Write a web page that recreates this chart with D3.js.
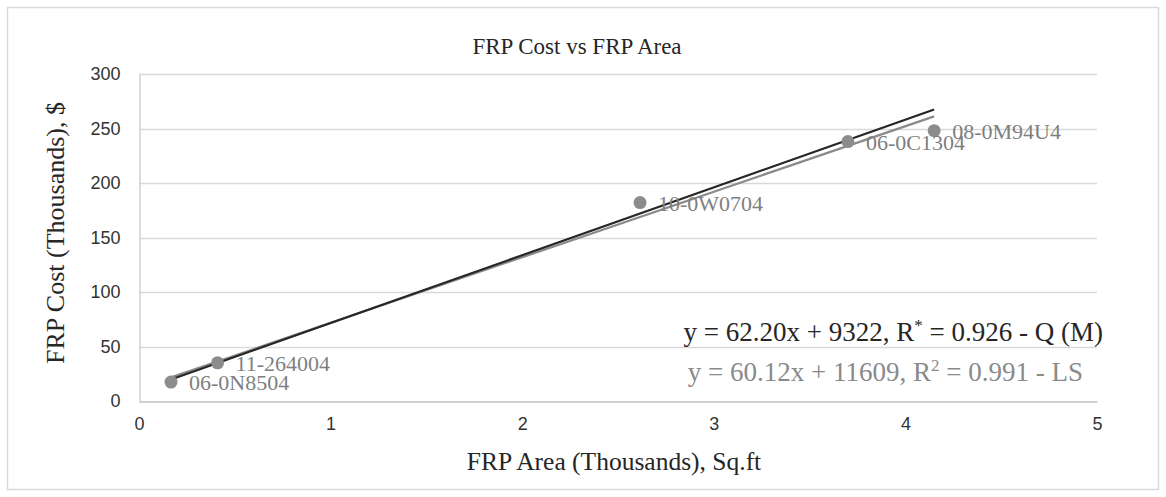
<!DOCTYPE html>
<html>
<head>
<meta charset="utf-8">
<script src="https://cdn.jsdelivr.net/npm/d3@7"></script>
<style>
  html, body { margin: 0; padding: 0; background: #fff; }
  svg { display: block; }
</style>
</head>
<body>
<svg id="chart" width="1166" height="497"></svg>
<script>
// FRP projects: area (thousand sq.ft) vs cost (thousand $)
const projectIds = ["06-0N8504", "11-264004", "10-0W0704", "06-0C1304", "08-0M94U4"];
const frpArea = [0.167, 0.41, 2.615, 3.70, 4.15];
const frpCost = [17.4, 35.0, 182, 238, 248];

// Fitted trend lines (cost in $, area in sq.ft): y = slope * x + intercept
const fitLabels = ["Q (M)", "LS"];
const fitSlopes = [62.20, 60.12];
const fitIntercepts = [9322, 11609];
const fitR = [0.926, 0.991];

const xTicks = [0, 1, 2, 3, 4, 5];
const yTicks = [0, 50, 100, 150, 200, 250, 300];

const svg = d3.select("#chart");
const serif = "'Liberation Serif', 'Times New Roman', serif";
const sans = "'Liberation Sans', Arial, sans-serif";

const plot = { left: 139, right: 1097, top: 74, bottom: 401 };

const x = d3.scaleLinear().domain([0, 5]).range([plot.left, plot.right]);
const y = d3.scaleLinear().domain([0, 300]).range([plot.bottom, plot.top]);

// chart frame
svg.append("rect")
  .attr("x", 7.5).attr("y", 7.5)
  .attr("width", 1151).attr("height", 482)
  .attr("fill", "#fff")
  .attr("stroke", "#d9d9d9")
  .attr("stroke-width", 1.5);

// horizontal gridlines
svg.append("g")
  .selectAll("line")
  .data(yTicks.filter(d => d > 0))
  .join("line")
  .attr("x1", plot.left).attr("x2", plot.right)
  .attr("y1", d => Math.round(y(d)) + 0.5).attr("y2", d => Math.round(y(d)) + 0.5)
  .attr("stroke", "#d9d9d9")
  .attr("stroke-width", 1.5);

// y axis
const yAxis = svg.append("g")
  .attr("transform", `translate(${plot.left + 0.5},0)`)
  .call(d3.axisLeft(y).tickValues(yTicks).tickFormat(d3.format("d")).tickSize(0).tickPadding(19));
yAxis.select(".domain").attr("stroke", "#d0d0d0").attr("stroke-width", 1.5);
yAxis.selectAll("text")
  .attr("font-family", sans).attr("font-size", 18).attr("fill", "#333");

// x axis
const xAxis = svg.append("g")
  .attr("transform", `translate(0,${plot.bottom + 0.5})`)
  .call(d3.axisBottom(x).tickValues(xTicks).tickFormat(d3.format("d")).tickSize(0).tickPadding(16));
xAxis.select(".domain").attr("stroke", "#bfbfbf").attr("stroke-width", 1.5);
xAxis.selectAll("text")
  .attr("font-family", sans).attr("font-size", 18).attr("fill", "#333");

// trend lines over the observed range of areas
const xMin = d3.min(frpArea), xMax = d3.max(frpArea);
const fitColors = ["#262626", "#8a8a8a"];
const fits = fitSlopes.map((m, i) => ({ m, b: fitIntercepts[i], color: fitColors[i] }));
svg.append("g")
  .selectAll("line")
  .data(fits.slice().reverse())
  .join("line")
  .attr("x1", x(xMin)).attr("x2", x(xMax))
  .attr("y1", d => y((d.m * xMin * 1000 + d.b) / 1000))
  .attr("y2", d => y((d.m * xMax * 1000 + d.b) / 1000))
  .attr("stroke", d => d.color)
  .attr("stroke-width", 2.2);

// data points
const pts = frpArea.map((a, i) => ({ a, c: frpCost[i], id: projectIds[i] }));
svg.append("g")
  .selectAll("circle")
  .data(pts)
  .join("circle")
  .attr("cx", d => x(d.a)).attr("cy", d => y(d.c))
  .attr("r", 6.5)
  .attr("fill", "#8c8c8c");

// point labels
svg.append("g")
  .selectAll("text")
  .data(pts)
  .join("text")
  .attr("x", d => x(d.a) + 18)
  .attr("y", d => y(d.c) + 3)
  .attr("dominant-baseline", "middle")
  .attr("font-family", serif).attr("font-size", 22)
  .attr("fill", "#7f7f7f")
  .text(d => d.id);

// title
svg.append("text")
  .attr("x", 577).attr("y", 54)
  .attr("text-anchor", "middle")
  .attr("font-family", serif).attr("font-size", 23)
  .attr("fill", "#262626")
  .text("FRP Cost vs FRP Area");

// axis titles
svg.append("text")
  .attr("x", 614).attr("y", 470)
  .attr("text-anchor", "middle")
  .attr("font-family", serif).attr("font-size", 25.5)
  .attr("fill", "#262626")
  .text("FRP Area (Thousands), Sq.ft");

svg.append("text")
  .attr("transform", "translate(64,233) rotate(-90)")
  .attr("text-anchor", "middle")
  .attr("font-family", serif).attr("font-size", 26)
  .attr("fill", "#262626")
  .text("FRP Cost (Thousands), $");

// regression equations
const eqY = [341, 381];
const eqX = [1103, 1083];
const eqColors = ["#262626", "#8a8a8a"];
const sup = ["*", "2"];
fits.forEach((f, i) => {
  const t = svg.append("text")
    .attr("x", eqX[i]).attr("y", eqY[i])
    .attr("text-anchor", "end")
    .attr("font-family", serif).attr("font-size", 27)
    .attr("fill", eqColors[i]);
  t.append("tspan").text(`y = ${f.m.toFixed(2)}x + ${f.b},  R`);
  t.append("tspan").attr("font-size", 17).attr("dy", -10).text(sup[i]);
  t.append("tspan").attr("dy", 10).text(` = ${fitR[i].toFixed(3)} - ${fitLabels[i]}`);
});
</script>
</body>
</html>
